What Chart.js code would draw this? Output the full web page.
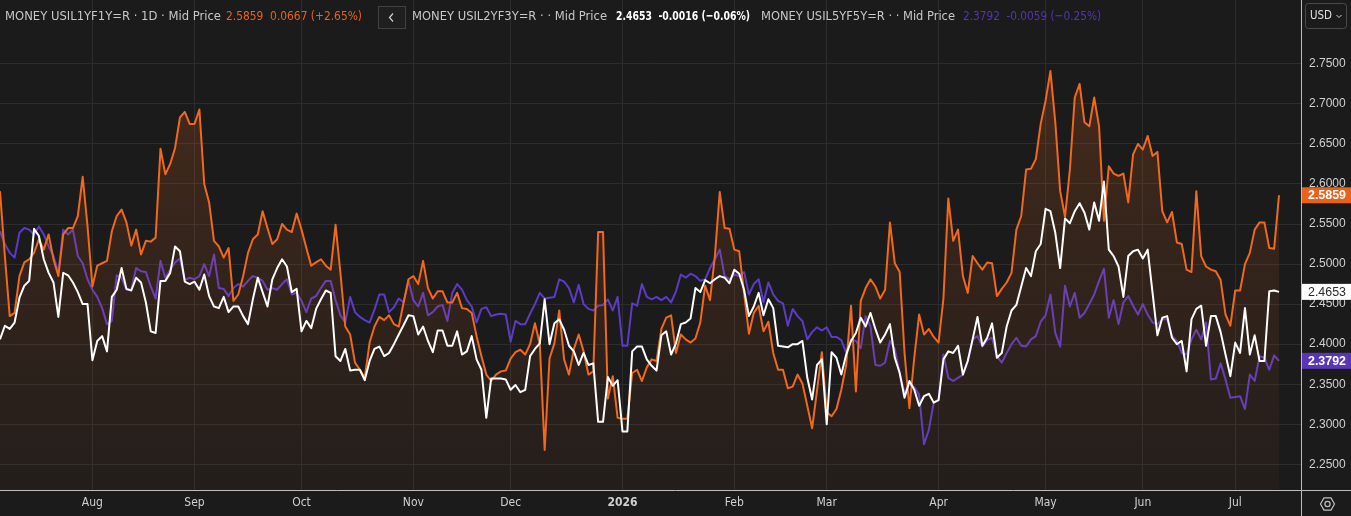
<!DOCTYPE html>
<html>
<head>
<meta charset="utf-8">
<script src="https://cdn.jsdelivr.net/npm/chart.js@4.4.1/dist/chart.umd.min.js"></script>
<style>
  html, body { margin: 0; padding: 0; background: #1b1b1b; overflow: hidden; }
  canvas { display: block; }
</style>
</head>
<body>
<canvas id="myChart" width="1351" height="516"></canvas>
<script>
// month labels and the trading-day index they sit on
const monthLabels = ["Aug", "Sep", "Oct", "Nov", "Dec", "2026", "Feb", "Mar", "Apr", "May", "Jun", "Jul"];
const monthTickIdx = [19, 40, 62, 85, 105, 128, 151, 170, 193, 215, 235, 254];
const yTicks = [2.25, 2.30, 2.35, 2.40, 2.45, 2.50, 2.55, 2.60, 2.65, 2.70, 2.75];

// MONEY USIL1YF1Y=R (orange)
const usil1y1y = [
  2.591, 2.510, 2.435, 2.439, 2.485, 2.502, 2.506, 2.514, 2.531, 2.518, 2.537, 2.506, 2.485, 2.537, 2.545, 2.545, 2.560, 2.609, 2.547, 2.472, 2.498, 2.501, 2.504, 2.541, 2.560, 2.568, 2.552, 2.523, 2.543, 2.512, 2.529, 2.528, 2.533, 2.644, 2.612, 2.625,
  2.645, 2.683, 2.690, 2.675, 2.675, 2.693, 2.600, 2.577, 2.529, 2.522, 2.508, 2.520, 2.454, 2.462, 2.485, 2.514, 2.531, 2.537, 2.566, 2.545, 2.525, 2.531, 2.550, 2.543, 2.540, 2.563, 2.543, 2.520, 2.498, 2.502, 2.506, 2.498, 2.493,
  2.549, 2.489, 2.422, 2.412, 2.377, 2.368, 2.358, 2.402, 2.422, 2.434, 2.430, 2.436, 2.425, 2.422, 2.452, 2.481, 2.485, 2.475, 2.504, 2.470, 2.457, 2.466, 2.466, 2.452, 2.452, 2.464, 2.445, 2.444, 2.439, 2.410, 2.385, 2.362,
  2.354, 2.362, 2.366, 2.367, 2.382, 2.390, 2.393, 2.387, 2.400, 2.426, 2.400, 2.268, 2.382, 2.401, 2.442, 2.381, 2.362, 2.394, 2.412, 2.391, 2.362, 2.366, 2.540, 2.540, 2.332, 2.360, 2.308, 2.307, 2.307, 2.364, 2.368, 2.354, 2.371, 2.381,
  2.379, 2.419, 2.433, 2.436, 2.389, 2.412, 2.406, 2.402, 2.407, 2.427, 2.473, 2.455, 2.510, 2.590, 2.545, 2.544, 2.518, 2.516, 2.464, 2.413, 2.439, 2.448, 2.416, 2.428, 2.389, 2.368, 2.368, 2.345, 2.347, 2.362, 2.351, 2.323, 2.295,
  2.342, 2.390, 2.315, 2.310, 2.319, 2.343, 2.374, 2.448, 2.341, 2.454, 2.470, 2.481, 2.472, 2.457, 2.468, 2.552, 2.501, 2.490, 2.389, 2.320, 2.383, 2.437, 2.412, 2.419, 2.409, 2.402, 2.457, 2.582, 2.529, 2.543, 2.485, 2.464, 2.510,
  2.501, 2.493, 2.502, 2.501, 2.460, 2.469, 2.477, 2.489, 2.543, 2.560, 2.618, 2.619, 2.631, 2.675, 2.704, 2.741, 2.677, 2.591, 2.559, 2.618, 2.708, 2.725, 2.677, 2.672, 2.708, 2.672, 2.554, 2.622, 2.613, 2.610, 2.613, 2.577,
  2.637, 2.650, 2.643, 2.660, 2.635, 2.640, 2.566, 2.552, 2.565, 2.527, 2.525, 2.493, 2.490, 2.591, 2.510, 2.497, 2.493, 2.491, 2.480, 2.437, 2.423, 2.467, 2.467, 2.500, 2.514, 2.543, 2.552, 2.552, 2.520, 2.519, 2.5859
];

// MONEY USIL2YF3Y=R (white)
const usil2y3y = [
  2.406, 2.423, 2.419, 2.427, 2.458, 2.473, 2.479, 2.544, 2.535, 2.506, 2.489, 2.477, 2.434, 2.489, 2.486, 2.477, 2.465, 2.450, 2.450, 2.380, 2.404, 2.410, 2.391, 2.459, 2.468, 2.495, 2.469, 2.467, 2.483, 2.477, 2.452, 2.416, 2.414, 2.479, 2.479, 2.489,
  2.522, 2.516, 2.478, 2.475, 2.478, 2.468, 2.487, 2.460, 2.447, 2.445, 2.459, 2.440, 2.447, 2.447, 2.435, 2.425, 2.456, 2.483, 2.465, 2.447, 2.481, 2.495, 2.506, 2.497, 2.465, 2.469, 2.416, 2.429, 2.420, 2.444, 2.456, 2.467, 2.464,
  2.385, 2.379, 2.394, 2.367, 2.368, 2.368, 2.355, 2.379, 2.394, 2.397, 2.385, 2.389, 2.400, 2.412, 2.424, 2.436, 2.435, 2.412, 2.422, 2.404, 2.390, 2.417, 2.417, 2.398, 2.398, 2.416, 2.387, 2.391, 2.410, 2.381, 2.368, 2.308,
  2.357, 2.357, 2.357, 2.356, 2.343, 2.349, 2.340, 2.343, 2.385, 2.394, 2.401, 2.456, 2.400, 2.426, 2.431, 2.418, 2.398, 2.391, 2.374, 2.389, 2.374, 2.376, 2.303, 2.303, 2.359, 2.348, 2.355, 2.291, 2.291, 2.391, 2.397, 2.397, 2.381, 2.373,
  2.367, 2.411, 2.416, 2.387, 2.401, 2.425, 2.427, 2.432, 2.470, 2.465, 2.480, 2.476, 2.481, 2.485, 2.483, 2.476, 2.493, 2.488, 2.468, 2.435, 2.447, 2.464, 2.436, 2.456, 2.445, 2.398, 2.397, 2.396, 2.400, 2.400, 2.404, 2.358, 2.331,
  2.374, 2.381, 2.300, 2.390, 2.383, 2.362, 2.387, 2.404, 2.414, 2.433, 2.422, 2.439, 2.419, 2.402, 2.412, 2.425, 2.383, 2.364, 2.333, 2.354, 2.343, 2.323, 2.335, 2.338, 2.327, 2.330, 2.381, 2.391, 2.389, 2.398, 2.362, 2.379, 2.406,
  2.434, 2.398, 2.408, 2.426, 2.383, 2.389, 2.422, 2.442, 2.449, 2.472, 2.495, 2.485, 2.516, 2.525, 2.569, 2.566, 2.539, 2.495, 2.557, 2.551, 2.566, 2.576, 2.564, 2.543, 2.577, 2.554, 2.603, 2.518, 2.510, 2.497, 2.459, 2.510,
  2.516, 2.518, 2.507, 2.518, 2.464, 2.411, 2.433, 2.435, 2.408, 2.400, 2.404, 2.366, 2.431, 2.444, 2.448, 2.398, 2.435, 2.435, 2.415, 2.387, 2.360, 2.402, 2.389, 2.445, 2.387, 2.411, 2.379, 2.379, 2.466, 2.467, 2.4653
];

// MONEY USIL5YF5Y=R (purple)
const usil5y5y = [
  2.541, 2.525, 2.514, 2.508, 2.539, 2.545, 2.543, 2.537, 2.547, 2.537, 2.522, 2.510, 2.489, 2.543, 2.537, 2.543, 2.510, 2.501, 2.481, 2.468, 2.459, 2.445, 2.425, 2.429, 2.486, 2.483, 2.468, 2.468, 2.495, 2.491, 2.490, 2.472, 2.457, 2.504, 2.483, 2.493,
  2.502, 2.507, 2.480, 2.483, 2.481, 2.485, 2.500, 2.485, 2.512, 2.470, 2.469, 2.460, 2.470, 2.475, 2.472, 2.479, 2.485, 2.483, 2.479, 2.468, 2.470, 2.468, 2.475, 2.481, 2.462, 2.464, 2.454, 2.440, 2.457, 2.460, 2.470, 2.479, 2.479,
  2.455, 2.436, 2.427, 2.459, 2.440, 2.434, 2.430, 2.427, 2.443, 2.462, 2.462, 2.440, 2.446, 2.457, 2.452, 2.479, 2.455, 2.447, 2.464, 2.436, 2.440, 2.447, 2.449, 2.429, 2.464, 2.475, 2.468, 2.455, 2.447, 2.427, 2.444, 2.446,
  2.435, 2.437, 2.438, 2.437, 2.403, 2.429, 2.425, 2.425, 2.438, 2.450, 2.464, 2.457, 2.458, 2.459, 2.481, 2.478, 2.470, 2.452, 2.474, 2.450, 2.444, 2.442, 2.448, 2.449, 2.456, 2.442, 2.459, 2.398, 2.398, 2.451, 2.448, 2.475, 2.459, 2.456,
  2.459, 2.455, 2.459, 2.452, 2.466, 2.487, 2.483, 2.488, 2.485, 2.479, 2.481, 2.495, 2.506, 2.518, 2.485, 2.481, 2.487, 2.485, 2.490, 2.462, 2.475, 2.481, 2.452, 2.477, 2.462, 2.454, 2.451, 2.423, 2.444, 2.435, 2.429, 2.406, 2.415,
  2.421, 2.417, 2.421, 2.409, 2.409, 2.405, 2.389, 2.406, 2.404, 2.395, 2.435, 2.422, 2.374, 2.373, 2.377, 2.404, 2.394, 2.364, 2.339, 2.350, 2.346, 2.337, 2.275, 2.293, 2.327, 2.331, 2.387, 2.358, 2.354, 2.358, 2.362, 2.379, 2.406,
  2.410, 2.397, 2.405, 2.408, 2.385, 2.377, 2.389, 2.400, 2.408, 2.398, 2.397, 2.406, 2.410, 2.428, 2.436, 2.462, 2.414, 2.397, 2.473, 2.447, 2.464, 2.433, 2.439, 2.450, 2.462, 2.479, 2.494, 2.433, 2.455, 2.425, 2.452, 2.460,
  2.448, 2.437, 2.450, 2.437, 2.427, 2.425, 2.431, 2.431, 2.410, 2.404, 2.389, 2.387, 2.406, 2.418, 2.406, 2.427, 2.356, 2.357, 2.376, 2.356, 2.333, 2.334, 2.335, 2.319, 2.362, 2.354, 2.385, 2.383, 2.368, 2.386, 2.3792
];

// header legend texts
const seriesNames = ["MONEY USIL1YF1Y=R \u00b7 1D \u00b7 Mid Price", "MONEY USIL2YF3Y=R \u00b7 \u00b7 Mid Price", "MONEY USIL5YF5Y=R \u00b7 \u00b7 Mid Price"];
const seriesLast = ["2.5859", "2.4653", "2.3792"];
const seriesChange = ["0.0667 (+2.65%)", "-0.0016 (\u22120.06%)", "-0.0059 (\u22120.25%)"];

const ORANGE = "#f0691d";
const PURPLE = "#5d3bc4";
const WHITE = "#ffffff";
const BG = "#1b1b1b";
const GRID = "#2d2d2d";
const AXIS = "#bdbdbd";
const NARROW = "'Liberation Sans Narrow', 'DejaVu Sans Condensed', 'Roboto Condensed', Roboto, sans-serif";

const toXY = (arr) => arr.map((v, i) => ({ x: i, y: v }));
// last point sits at x=1279 of a 1301px wide plot
const xMax = (usil1y1y.length - 1) * 1301 / 1279;

function fitText(c, text, x, y, w) {
  const m = c.measureText(text).width;
  c.save();
  c.translate(x, y);
  if (m > 0) c.scale(w / m, 1);
  c.fillText(text, 0, 0);
  c.restore();
}

const bgPlugin = {
  id: "bg",
  beforeDraw(chart) {
    const c = chart.ctx;
    c.save();
    c.fillStyle = BG;
    c.fillRect(0, 0, chart.width, chart.height);
    c.restore();
  }
};

const overlayPlugin = {
  id: "overlay",
  afterDraw(chart) {
    const c = chart.ctx;
    const ys = chart.scales.y;
    const area = chart.chartArea;
    c.save();

    // axis borders
    c.strokeStyle = AXIS;
    c.lineWidth = 1;
    c.beginPath();
    c.moveTo(0, area.bottom + 0.5);
    c.lineTo(chart.width, area.bottom + 0.5);
    c.moveTo(area.right + 0.5, 0);
    c.lineTo(area.right + 0.5, chart.height);
    c.stroke();

    // last value tags
    const tags = [
      { v: usil1y1y[usil1y1y.length - 1], bg: "#e8621c", fg: "#ffffff", bold: true, txt: seriesLast[0] },
      { v: usil2y3y[usil2y3y.length - 1], bg: "#ffffff", fg: "#2a2a2a", bold: false, txt: seriesLast[1] },
      { v: usil5y5y[usil5y5y.length - 1], bg: "#5a35b8", fg: "#ffffff", bold: true, txt: seriesLast[2] }
    ];
    tags.forEach(t => {
      const py = ys.getPixelForValue(t.v);
      c.fillStyle = t.bg;
      c.fillRect(area.right + 1, py - 8, chart.width - area.right - 1, 16);
      c.fillStyle = t.fg;
      c.font = (t.bold ? "bold " : "") + "12px 'Liberation Sans', Arial, sans-serif";
      c.textBaseline = "middle";
      c.textAlign = "left";
      fitText(c, t.txt, area.right + 7, py + 0.5, 38);
    });

    // header legend
    c.textBaseline = "middle";
    c.textAlign = "left";
    const hy = 17;
    c.font = "13px " + NARROW;
    c.fillStyle = "#c8c8c8";
    fitText(c, seriesNames[0], 5, hy, 216);
    c.fillStyle = "#e8631f";
    fitText(c, seriesLast[0] + "  " + seriesChange[0], 226, hy, 136);

    // collapse button
    c.fillStyle = "#1f1f1f";
    c.fillRect(378.5, 6.5, 27, 22);
    c.strokeStyle = "#404040";
    c.strokeRect(378.5, 6.5, 27, 22);
    c.strokeStyle = "#d0d0d0";
    c.lineWidth = 1.2;
    c.beginPath();
    c.moveTo(393, 13.5);
    c.lineTo(389.5, 17.5);
    c.lineTo(393, 21.5);
    c.stroke();

    c.font = "13px " + NARROW;
    c.fillStyle = "#c8c8c8";
    fitText(c, seriesNames[1], 412, hy, 195);
    c.font = "bold 13px " + NARROW;
    c.fillStyle = "#ffffff";
    fitText(c, seriesLast[1] + "  " + seriesChange[1], 616, hy, 134);

    c.font = "13px " + NARROW;
    c.fillStyle = "#c8c8c8";
    fitText(c, seriesNames[2], 761, hy, 194);
    c.fillStyle = "#5535b0";
    fitText(c, seriesLast[2] + "  " + seriesChange[2], 963, hy, 138);

    // currency selector
    c.fillStyle = "#1b1b1b";
    c.strokeStyle = "#4a4a4a";
    c.lineWidth = 1;
    c.beginPath();
    c.roundRect(1305.5, 3.5, 41, 25, 3);
    c.fill();
    c.stroke();
    c.fillStyle = "#e0e0e0";
    c.font = "13px " + NARROW;
    fitText(c, "USD", 1310, 16, 22);
    c.strokeStyle = "#d0d0d0";
    c.beginPath();
    c.moveTo(1336.5, 15);
    c.lineTo(1339, 17.5);
    c.lineTo(1341.5, 15);
    c.stroke();

    // settings icon
    const gx = 1327.5, gy = 504, r = 7;
    c.strokeStyle = "#c0c0c0";
    c.lineWidth = 1.2;
    c.beginPath();
    for (let k = 0; k < 6; k++) {
      const a = Math.PI / 3 * k;
      const px = gx + r * Math.cos(a), py = gy + r * Math.sin(a);
      if (k === 0) c.moveTo(px, py); else c.lineTo(px, py);
    }
    c.closePath();
    c.stroke();
    c.beginPath();
    c.arc(gx, gy, 2.6, 0, Math.PI * 2);
    c.stroke();

    c.restore();
  }
};

const chartRef = document.getElementById("myChart");
const ctx = chartRef.getContext("2d");

const myChart = new Chart(ctx, {
  type: "line",
  data: {
    datasets: [
      {
        label: "USIL5YF5Y",
        data: toXY(usil5y5y),
        borderColor: PURPLE,
        borderWidth: 2,
        pointRadius: 0,
        fill: false,
        order: 3
      },
      {
        label: "USIL1YF1Y",
        data: toXY(usil1y1y),
        borderColor: ORANGE,
        borderWidth: 2,
        pointRadius: 0,
        fill: "start",
        backgroundColor: (context) => {
          const area = context.chart.chartArea;
          if (!area) return "rgba(240,105,29,0.15)";
          const g = context.chart.ctx.createLinearGradient(0, area.top, 0, area.bottom);
          g.addColorStop(0, "rgba(240,105,29,0.24)");
          g.addColorStop(0.45, "rgba(240,105,29,0.13)");
          g.addColorStop(1, "rgba(240,105,29,0.04)");
          return g;
        },
        order: 2
      },
      {
        label: "USIL2YF3Y",
        data: toXY(usil2y3y),
        borderColor: WHITE,
        borderWidth: 2,
        pointRadius: 0,
        fill: false,
        order: 1
      }
    ]
  },
  options: {
    responsive: false,
    animation: false,
    devicePixelRatio: 1,
    layout: { padding: 0 },
    plugins: {
      legend: { display: false },
      tooltip: { enabled: false },
      title: { display: false }
    },
    elements: { line: { tension: 0, borderJoinStyle: "round" } },
    scales: {
      x: {
        type: "linear",
        min: 0,
        max: xMax,
        border: { display: false },
        grid: { color: GRID, drawTicks: false },
        afterBuildTicks: (scale) => {
          scale.ticks = monthTickIdx.map(v => ({ value: v }));
        },
        afterFit: (scale) => {
          scale.height = 26;
          scale.paddingLeft = 0;
          scale.paddingRight = 0;
        },
        ticks: {
          autoSkip: false,
          maxRotation: 0,
          padding: 6,
          color: "#cfcfcf",
          font: (c) => ({
            family: NARROW,
            size: 12,
            weight: c.tick && c.tick.value === monthTickIdx[monthLabels.indexOf("2026")] ? "bold" : "normal"
          }),
          callback: (value) => monthLabels[monthTickIdx.indexOf(value)]
        }
      },
      y: {
        position: "right",
        min: 2.2179,
        max: 2.8297,
        border: { display: false },
        grid: { color: GRID, drawTicks: false },
        afterBuildTicks: (scale) => {
          scale.ticks = yTicks.map(v => ({ value: v }));
        },
        afterFit: (scale) => {
          scale.width = 50;
          scale.paddingTop = 0;
          scale.paddingBottom = 0;
        },
        ticks: {
          padding: 8,
          color: "#d0d0d0",
          font: { family: "'Liberation Sans', Arial, sans-serif", size: 12 },
          callback: (value) => Number(value).toFixed(4)
        }
      }
    }
  },
  plugins: [bgPlugin, overlayPlugin]
});
</script>
</body>
</html>
